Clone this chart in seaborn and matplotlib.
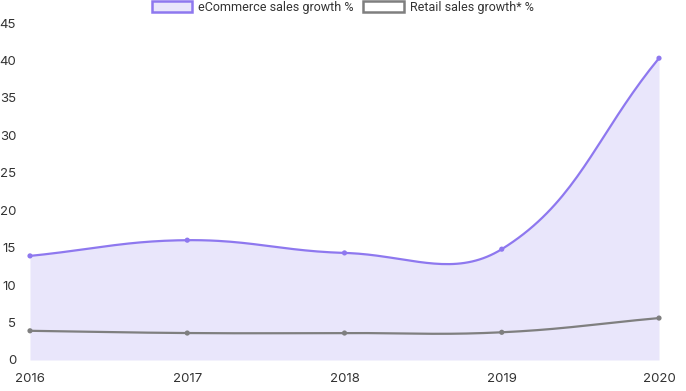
import numpy as np
import pandas as pd
import matplotlib.pyplot as plt
import seaborn as sns
from matplotlib.patches import Patch

years = ["2016", "2017", "2018", "2019", "2020"]
ecommerce = [13.9, 16.0, 14.3, 14.8, 40.3]
retail = [3.9, 3.6, 3.6, 3.7, 5.6]

PURPLE = "#8e78ef"
FILL = "#e9e6fb"
GREY = "#7f7f7f"

sns.set_theme(style="white")
plt.rcParams['font.family'] = ['Inter', 'DejaVu Sans']

fig = plt.figure(figsize=(6.86, 3.91), dpi=100)
ax = fig.add_axes([30 / 686, 1 - 360 / 391, 629 / 686, 337 / 391])
ax.set_xlim(0, len(years) - 1)
ax.set_ylim(0, 45)

# pixel scale used for the spline tension (like chart.js)
sx = 629 / (len(years) - 1)
sy = 337 / 45


def spline(vals, tension=0.4, n=40):
    xs = np.arange(len(vals), dtype=float)
    ys = np.array(vals, dtype=float)
    px, py = xs * sx, ys * sy
    cp_prev, cp_next = [], []
    for i in range(len(vals)):
        i0 = max(i - 1, 0)
        i2 = min(i + 1, len(vals) - 1)
        d01 = np.hypot(px[i] - px[i0], py[i] - py[i0])
        d12 = np.hypot(px[i2] - px[i], py[i2] - py[i])
        tot = d01 + d12
        s01 = d01 / tot if tot else 0
        s12 = d12 / tot if tot else 0
        fa, fb = tension * s01, tension * s12
        cp_prev.append((px[i] - fa * (px[i2] - px[i0]), py[i] - fa * (py[i2] - py[i0])))
        cp_next.append((px[i] + fb * (px[i2] - px[i0]), py[i] + fb * (py[i2] - py[i0])))
    out_x, out_y = [], []
    t = np.linspace(0, 1, n)
    for i in range(len(vals) - 1):
        p0 = np.array([px[i], py[i]])
        p1 = np.array(cp_next[i])
        p2 = np.array(cp_prev[i + 1])
        p3 = np.array([px[i + 1], py[i + 1]])
        b = ((1 - t) ** 3)[:, None] * p0 + (3 * (1 - t) ** 2 * t)[:, None] * p1 \
            + (3 * (1 - t) * t ** 2)[:, None] * p2 + (t ** 3)[:, None] * p3
        out_x.extend(b[:, 0] / sx)
        out_y.extend(b[:, 1] / sy)
    return np.array(out_x), np.array(out_y)


ex, ey = spline(ecommerce)
rx, ry = spline(retail)

ax.fill_between(ex, 0, ey, color=FILL, linewidth=0, zorder=1)
ax.plot(ex, ey, color=PURPLE, lw=1.6, zorder=3)
ax.plot(rx, ry, color=GREY, lw=1.6, zorder=3)

df = pd.DataFrame({"x": list(range(len(years))) * 2,
                   "y": ecommerce + retail,
                   "s": ["e"] * len(years) + ["r"] * len(years)})
sns.scatterplot(data=df, x="x", y="y", hue="s", palette={"e": PURPLE, "r": GREY},
                s=14, linewidth=0, legend=False, ax=ax, zorder=4, clip_on=False)

ax.set_xticks(range(len(years)))
ax.set_xticklabels(years)
ax.set_yticks(range(0, 46, 5))
ax.tick_params(axis="both", length=0, labelsize=9.5, colors="#333333")
ax.tick_params(axis="y", pad=10)
ax.tick_params(axis="x", pad=9)
ax.set_xlabel("")
ax.set_ylabel("")
for sp in ax.spines.values():
    sp.set_visible(False)

handles = [Patch(facecolor=FILL, edgecolor=PURPLE, linewidth=1.8, label="eCommerce sales growth %"),
           Patch(facecolor="white", edgecolor=GREY, linewidth=1.8, label="Retail sales growth* %")]
fig.legend(handles=handles, loc="upper left", bbox_to_anchor=(151 / 686, 1.0), ncol=2,
           frameon=False, prop={"family": "Roboto", "size": 9},
           handlelength=3.25, handleheight=1.0, borderpad=0.05, borderaxespad=0,
           handletextpad=0.45, columnspacing=0.8, labelcolor="#333333")

fig.savefig("out.png", dpi=100)
